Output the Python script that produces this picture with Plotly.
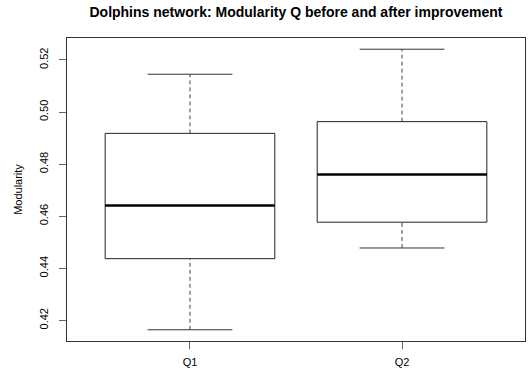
import plotly.graph_objects as go

# Summary statistics of modularity Q for the dolphins network
groups = ["Q1", "Q2"]
lower_whisker = [0.4164, 0.4478]
q1_vals = [0.4437, 0.4577]
medians = [0.4641, 0.4760]
q3_vals = [0.4918, 0.4963]
upper_whisker = [0.5145, 0.5241]

y_ticks = [0.42, 0.44, 0.46, 0.48, 0.50, 0.52]

HALF = 0.4          # half box width, in category units
CAP = HALF / 2      # half whisker-cap width
FONT = "Liberation Sans, Arial, sans-serif"

fig = go.Figure()
line_kw = dict(mode="lines", hoverinfo="skip", showlegend=False)

for i, name in enumerate(groups):
    c = i + 1
    lo, a, m, b, hi = lower_whisker[i], q1_vals[i], medians[i], q3_vals[i], upper_whisker[i]
    # dashed whiskers
    fig.add_trace(go.Scatter(x=[c, c], y=[b, hi], line=dict(color="#444", width=1, dash="4px,3px"), **line_kw))
    fig.add_trace(go.Scatter(x=[c, c], y=[lo, a], line=dict(color="#444", width=1, dash="4px,3px"), **line_kw))
    # whisker caps
    fig.add_trace(go.Scatter(x=[c - CAP, c + CAP], y=[hi, hi], line=dict(color="#333", width=1), **line_kw))
    fig.add_trace(go.Scatter(x=[c - CAP, c + CAP], y=[lo, lo], line=dict(color="#333", width=1), **line_kw))
    # box
    fig.add_trace(go.Scatter(x=[c - HALF, c + HALF, c + HALF, c - HALF, c - HALF],
                             y=[a, a, b, b, a], line=dict(color="#222", width=1), **line_kw))
    # median
    fig.add_trace(go.Scatter(x=[c - HALF, c + HALF], y=[m, m], line=dict(color="black", width=2.5), **line_kw))

# R-style 4% padding of the axis ranges
ymin, ymax = min(lower_whisker), max(upper_whisker)
pad = 0.04 * (ymax - ymin)
xpad = 0.04 * 2

fig.update_layout(
    width=529, height=374,
    margin=dict(l=67, r=4, t=38, b=33),
    paper_bgcolor="white", plot_bgcolor="white",
    font=dict(family=FONT, size=11, color="black"),
    title=dict(text="<b>Dolphins network: Modularity Q before and after improvement</b>",
               x=(67 + 525) / 2 / 529, xanchor="center", y=1 - 12 / 374, yanchor="middle",
               font=dict(size=14, family=FONT, color="black")),
    xaxis=dict(range=[0.5 - xpad, 2.5 + xpad], tickvals=[1, 2], ticktext=groups,
               showgrid=False, zeroline=False, showline=True, mirror=True,
               linecolor="#333", linewidth=1, ticks="outside", ticklen=7,
               tickcolor="#666", tickfont=dict(size=11), ticklabelstandoff=4),
    yaxis=dict(range=[ymin - pad, ymax + pad], tickvals=y_ticks,
               ticktext=[f"{v:.2f}" for v in y_ticks], tickangle=-90,
               showgrid=False, zeroline=False, showline=True, mirror=True,
               linecolor="#333", linewidth=1, ticks="outside", ticklen=7,
               tickcolor="#666", tickfont=dict(size=11), ticklabelstandoff=7,
               title=dict(text="Modularity", font=dict(size=11), standoff=12)),
)

fig.write_html("out.html")
